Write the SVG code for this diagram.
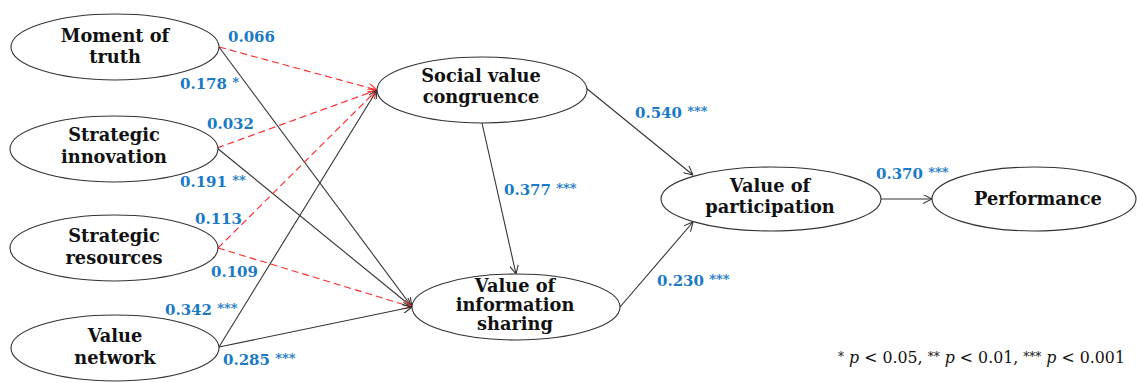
<svg xmlns="http://www.w3.org/2000/svg" width="1137" height="383" viewBox="0 0 1137 383">
  <defs>
    <marker id="arrow" viewBox="0 0 10 10" refX="10" refY="5" markerWidth="9" markerHeight="9" markerUnits="userSpaceOnUse" orient="auto">
      <path d="M0,0 L10,5 L0,10" fill="none" stroke="#333" stroke-width="1.2"/>
    </marker>
    <marker id="arrow-red" viewBox="0 0 10 10" refX="10" refY="5" markerWidth="9" markerHeight="9" markerUnits="userSpaceOnUse" orient="auto">
      <path d="M0,0 L10,5 L0,10" fill="none" stroke="#ff2a2a" stroke-width="1.2"/>
    </marker>
  </defs>
  <style>
    .node ellipse { fill: #ffffff; stroke: #333333; stroke-width: 1.1; }
    .node text { font-family: "DejaVu Serif", "Liberation Serif", serif; font-weight: bold; font-size: 17.8px; fill: #111111; text-anchor: middle; }
    .solid { stroke: #333333; stroke-width: 1.1; fill: none; marker-end: url(#arrow); }
    .dashed { stroke: #ff2a2a; stroke-width: 1.1; fill: none; stroke-dasharray: 7 4; marker-end: url(#arrow-red); }
    .coef { font-family: "DejaVu Serif", "Liberation Serif", serif; font-weight: bold; font-size: 15px; fill: #1a7ac6; }
    .star { font-size: 13px; }
    .note { font-family: "DejaVu Serif", "Liberation Serif", serif; font-size: 15.8px; fill: #111111; }
  </style>
  <rect width="1137" height="383" fill="#ffffff"/>

  <!-- paths between constructs -->
  <g id="connectors">
    <line class="dashed" x1="219" y1="47" x2="377" y2="90"/>
    <line class="solid" x1="219" y1="47" x2="412" y2="307"/>
    <line class="dashed" x1="217" y1="148" x2="377" y2="90"/>
    <line class="solid" x1="217" y1="148" x2="412" y2="307"/>
    <line class="dashed" x1="218" y1="248" x2="377" y2="90"/>
    <line class="dashed" x1="218" y1="248" x2="412" y2="307"/>
    <line class="solid" x1="219" y1="347" x2="377" y2="90"/>
    <line class="solid" x1="219" y1="347" x2="412" y2="307"/>
    <line class="solid" x1="586" y1="88" x2="693" y2="175"/>
    <line class="solid" x1="482" y1="123" x2="516" y2="274"/>
    <line class="solid" x1="620" y1="307" x2="693" y2="222"/>
    <line class="solid" x1="881" y1="199" x2="932" y2="199"/>
  </g>

  <!-- path coefficients -->
  <g id="coefficients">
    <text class="coef" x="228" y="42">0.066</text>
    <text class="coef" x="180" y="89">0.178 <tspan class="star" dy="-2">*</tspan></text>
    <text class="coef" x="207" y="129">0.032</text>
    <text class="coef" x="180" y="187">0.191 <tspan class="star" dy="-2">**</tspan></text>
    <text class="coef" x="195" y="224">0.113</text>
    <text class="coef" x="211" y="277">0.109</text>
    <text class="coef" x="165" y="315">0.342 <tspan class="star" dy="-2">***</tspan></text>
    <text class="coef" x="223" y="365">0.285 <tspan class="star" dy="-2">***</tspan></text>
    <text class="coef" x="635" y="118">0.540 <tspan class="star" dy="-2">***</tspan></text>
    <text class="coef" x="504" y="195">0.377 <tspan class="star" dy="-2">***</tspan></text>
    <text class="coef" x="657" y="286">0.230 <tspan class="star" dy="-2">***</tspan></text>
    <text class="coef" x="876" y="179">0.370 <tspan class="star" dy="-2">***</tspan></text>
  </g>

  <g id="moment-of-truth" class="node">
    <ellipse cx="115" cy="47" rx="104" ry="33"/>
    <text x="115" y="42">Moment of</text>
    <text x="115" y="63">truth</text>
  </g>
  <g id="strategic-innovation" class="node">
    <ellipse cx="114" cy="149" rx="104" ry="33"/>
    <text x="114" y="141">Strategic</text>
    <text x="114" y="163">innovation</text>
  </g>
  <g id="strategic-resources" class="node">
    <ellipse cx="114" cy="248" rx="104" ry="33"/>
    <text x="114" y="242">Strategic</text>
    <text x="114" y="264">resources</text>
  </g>
  <g id="value-network" class="node">
    <ellipse cx="115" cy="348" rx="104" ry="33"/>
    <text x="115" y="342">Value</text>
    <text x="115" y="364">network</text>
  </g>
  <g id="social-value-congruence" class="node">
    <ellipse cx="482" cy="90" rx="105" ry="33"/>
    <text x="481" y="82">Social value</text>
    <text x="481" y="103">congruence</text>
  </g>
  <g id="value-of-information-sharing" class="node">
    <ellipse cx="516" cy="307" rx="104" ry="33"/>
    <text x="515" y="292">Value of</text>
    <text x="515" y="311">information</text>
    <text x="515" y="330">sharing</text>
  </g>
  <g id="value-of-participation" class="node">
    <ellipse cx="771" cy="199" rx="110" ry="32"/>
    <text x="770" y="192">Value of</text>
    <text x="770" y="213">participation</text>
  </g>
  <g id="performance" class="node">
    <ellipse cx="1034" cy="199" rx="102" ry="32"/>
    <text x="1038" y="205">Performance</text>
  </g>

  <!-- significance legend -->
  <text class="note" x="838" y="363"><tspan font-size="12" dy="-2">*</tspan><tspan dy="2"> </tspan><tspan font-style="italic">p</tspan> &lt; 0.05, <tspan font-size="12" dy="-2">**</tspan><tspan dy="2"> </tspan><tspan font-style="italic">p</tspan> &lt; 0.01, <tspan font-size="12" dy="-2">***</tspan><tspan dy="2"> </tspan><tspan font-style="italic">p</tspan> &lt; 0.001</text>
</svg>
